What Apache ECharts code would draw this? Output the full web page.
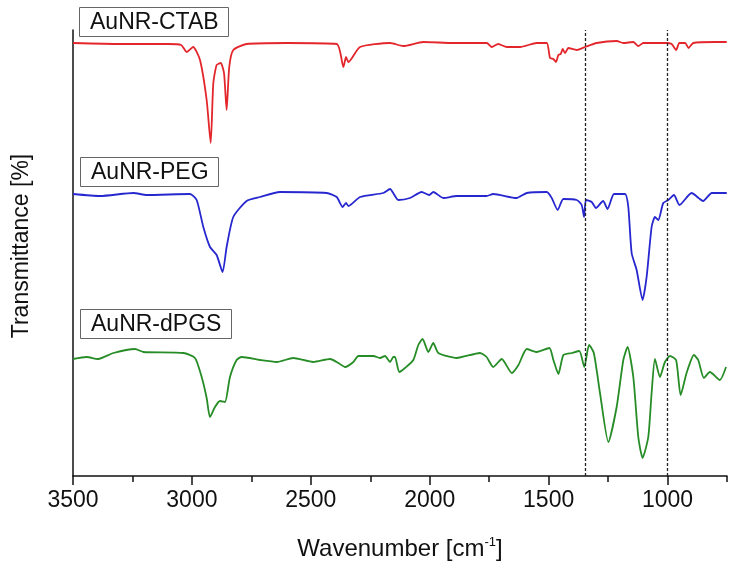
<!DOCTYPE html>
<html><head><meta charset="utf-8">
<script src="https://cdn.jsdelivr.net/npm/echarts@6/dist/echarts.min.js"></script>
<style>html,body{margin:0;padding:0;background:#fff}#c{width:738px;height:569px}</style>
</head><body><div id="c"></div>
<script>
// Wavenumbers (cm^-1) and relative transmittance (arbitrary, offset traces)
const ctabX = [3500,3300,3100,3045,3022,2995,2966,2938,2921,2910,2896,2879,2865,2854,2843,2826,2770,2600,2391,2363,2352,2342,2293,2167,2111,2027,1900,1760,1739,1712,1676,1620,1550,1508,1494,1480,1469,1459,1449,1441,1431,1417,1382,1347,1298,1214,1186,1144,1123,1102,1004,983,964,950,926,912,892,800,751];
const ctabY = [433,432,432,431,424,429,416,376,333,393,411,413,403,366,409,426,432,433,432,409,419,414,429,433,430,434,433,433,429,432,429,429,433,433,418,417,414,421,422,427,423,428,426,429,433,435,433,434,430,433,433,432,426,433,433,428,433,434,434];
const pegX = [3500,3386,3246,3190,3008,2980,2952,2924,2896,2871,2854,2826,2770,2714,2630,2433,2391,2366,2352,2342,2293,2195,2167,2132,2083,2034,2002,1985,1943,1887,1761,1733,1635,1592,1508,1487,1462,1438,1382,1361,1351,1343,1319,1301,1271,1252,1225,1179,1165,1151,1130,1105,1088,1067,1053,1039,1018,997,973,950,899,850,814,751];
const pegY = [282,280,283,281,282,276,249,229,221,204,229,259,275,279,284,283,279,269,273,270,279,283,287,276,278,284,281,284,278,280,280,282,278,283,284,278,266,277,276,271,259,276,274,268,275,267,282,282,269,223,206,176,199,249,259,256,273,276,281,271,283,275,283,283];
const dpgsX = [3500,3443,3394,3330,3239,3204,3036,2987,2959,2938,2924,2903,2882,2861,2840,2812,2791,2714,2643,2574,2490,2419,2384,2356,2321,2300,2237,2209,2188,2167,2153,2146,2128,2104,2069,2048,2030,2006,1985,1964,1887,1789,1761,1733,1697,1655,1627,1592,1550,1497,1480,1459,1438,1403,1371,1350,1330,1310,1284,1249,1214,1186,1168,1144,1123,1105,1081,1067,1053,1032,1011,990,964,945,920,889,871,847,822,780,754];
const dpgsY = [117,119,117,123,127,124,123,118,99,78,59,69,75,74,99,116,119,116,114,118,114,117,113,109,114,120,120,118,120,114,119,119,104,108,116,131,137,124,133,123,118,123,119,109,117,103,111,127,124,128,116,102,121,123,125,109,131,123,83,34,69,116,129,99,39,18,39,83,117,99,114,120,116,81,103,121,116,98,104,96,109];
const xTicks = [3500,3000,2500,2000,1500,1000];
const xMinorTicks = [3250,2750,2250,1750,1250,750];
const refLines = [1345,1000];
const names = ['AuNR-CTAB','AuNR-PEG','AuNR-dPGS'];

const FONT = 'Liberation Sans, Arial, sans-serif';
const zip = (xs, ys) => xs.map((x, i) => [x, ys[i]]);
const chart = echarts.init(document.getElementById('c'));
const lineStyleFor = c => ({color: c, width: 1.8});
const boxTitle = (t, l, tp) => ({
  text: t, left: l, top: tp,
  borderColor: '#666', borderWidth: 1, padding: [4, 10, 3, 11],
  textStyle: {fontFamily: FONT, fontSize: 23, fontWeight: 'normal', color: '#111'}
});
const baseX = {type: 'value', inverse: true, min: 750, max: 3500, position: 'bottom', splitLine: {show: false}};
chart.setOption({
  animation: false,
  backgroundColor: '#fff',
  title: [boxTitle(names[0], 79, 7), boxTitle(names[1], 80, 157), boxTitle(names[2], 80, 309)],
  grid: {left: 73, right: 11, top: 30, bottom: 93, containLabel: false},
  xAxis: [Object.assign({}, baseX, {
    name: '{a|Wavenumber [cm}{s|-1}{a|]}', nameLocation: 'middle', nameGap: 60,
    nameTextStyle: {rich: {
      a: {fontFamily: FONT, fontSize: 24, color: '#111'},
      s: {fontFamily: FONT, fontSize: 13, color: '#111', verticalAlign: 'top', padding: [0, 0, 14, 0]}
    }},
    axisLine: {show: true, lineStyle: {color: '#111', width: 1.5}},
    axisTick: {show: true, length: 9, customValues: xTicks, lineStyle: {color: '#111', width: 1.5}},
    axisLabel: {fontFamily: FONT, fontSize: 23, color: '#111', margin: 13, customValues: xTicks, formatter: v => String(v)}
  }), Object.assign({}, baseX, {
    axisLine: {show: false},
    axisTick: {show: true, length: 6, customValues: xMinorTicks, lineStyle: {color: '#111', width: 1.5}},
    axisLabel: {show: false}
  })],
  yAxis: {
    type: 'value', min: 0, max: 446,
    name: 'Transmittance [%]', nameLocation: 'middle', nameGap: 40, nameRotate: 90,
    nameTextStyle: {fontFamily: FONT, fontSize: 23, color: '#111', padding: [0, 0, 0, 14]},
    axisLine: {show: true, lineStyle: {color: '#111', width: 1.5}},
    axisTick: {show: false}, axisLabel: {show: false}, splitLine: {show: false}
  },
  series: [
    {name: names[0], type: 'line', data: zip(ctabX, ctabY), showSymbol: false, smooth: 0.2, lineStyle: lineStyleFor('#e3262b'), itemStyle: {color: '#e3262b'},
     markLine: {silent: true, symbol: 'none', label: {show: false}, lineStyle: {color: '#222', type: [3, 2], width: 1.3},
       data: refLines.map(v => ({xAxis: v}))}},
    {name: names[1], type: 'line', data: zip(pegX, pegY), showSymbol: false, smooth: 0.2, lineStyle: lineStyleFor('#2727cf'), itemStyle: {color: '#2727cf'}},
    {name: names[2], type: 'line', data: zip(dpgsX, dpgsY), showSymbol: false, smooth: 0.2, lineStyle: lineStyleFor('#268c26'), itemStyle: {color: '#268c26'}}
  ]
});
</script></body></html>
